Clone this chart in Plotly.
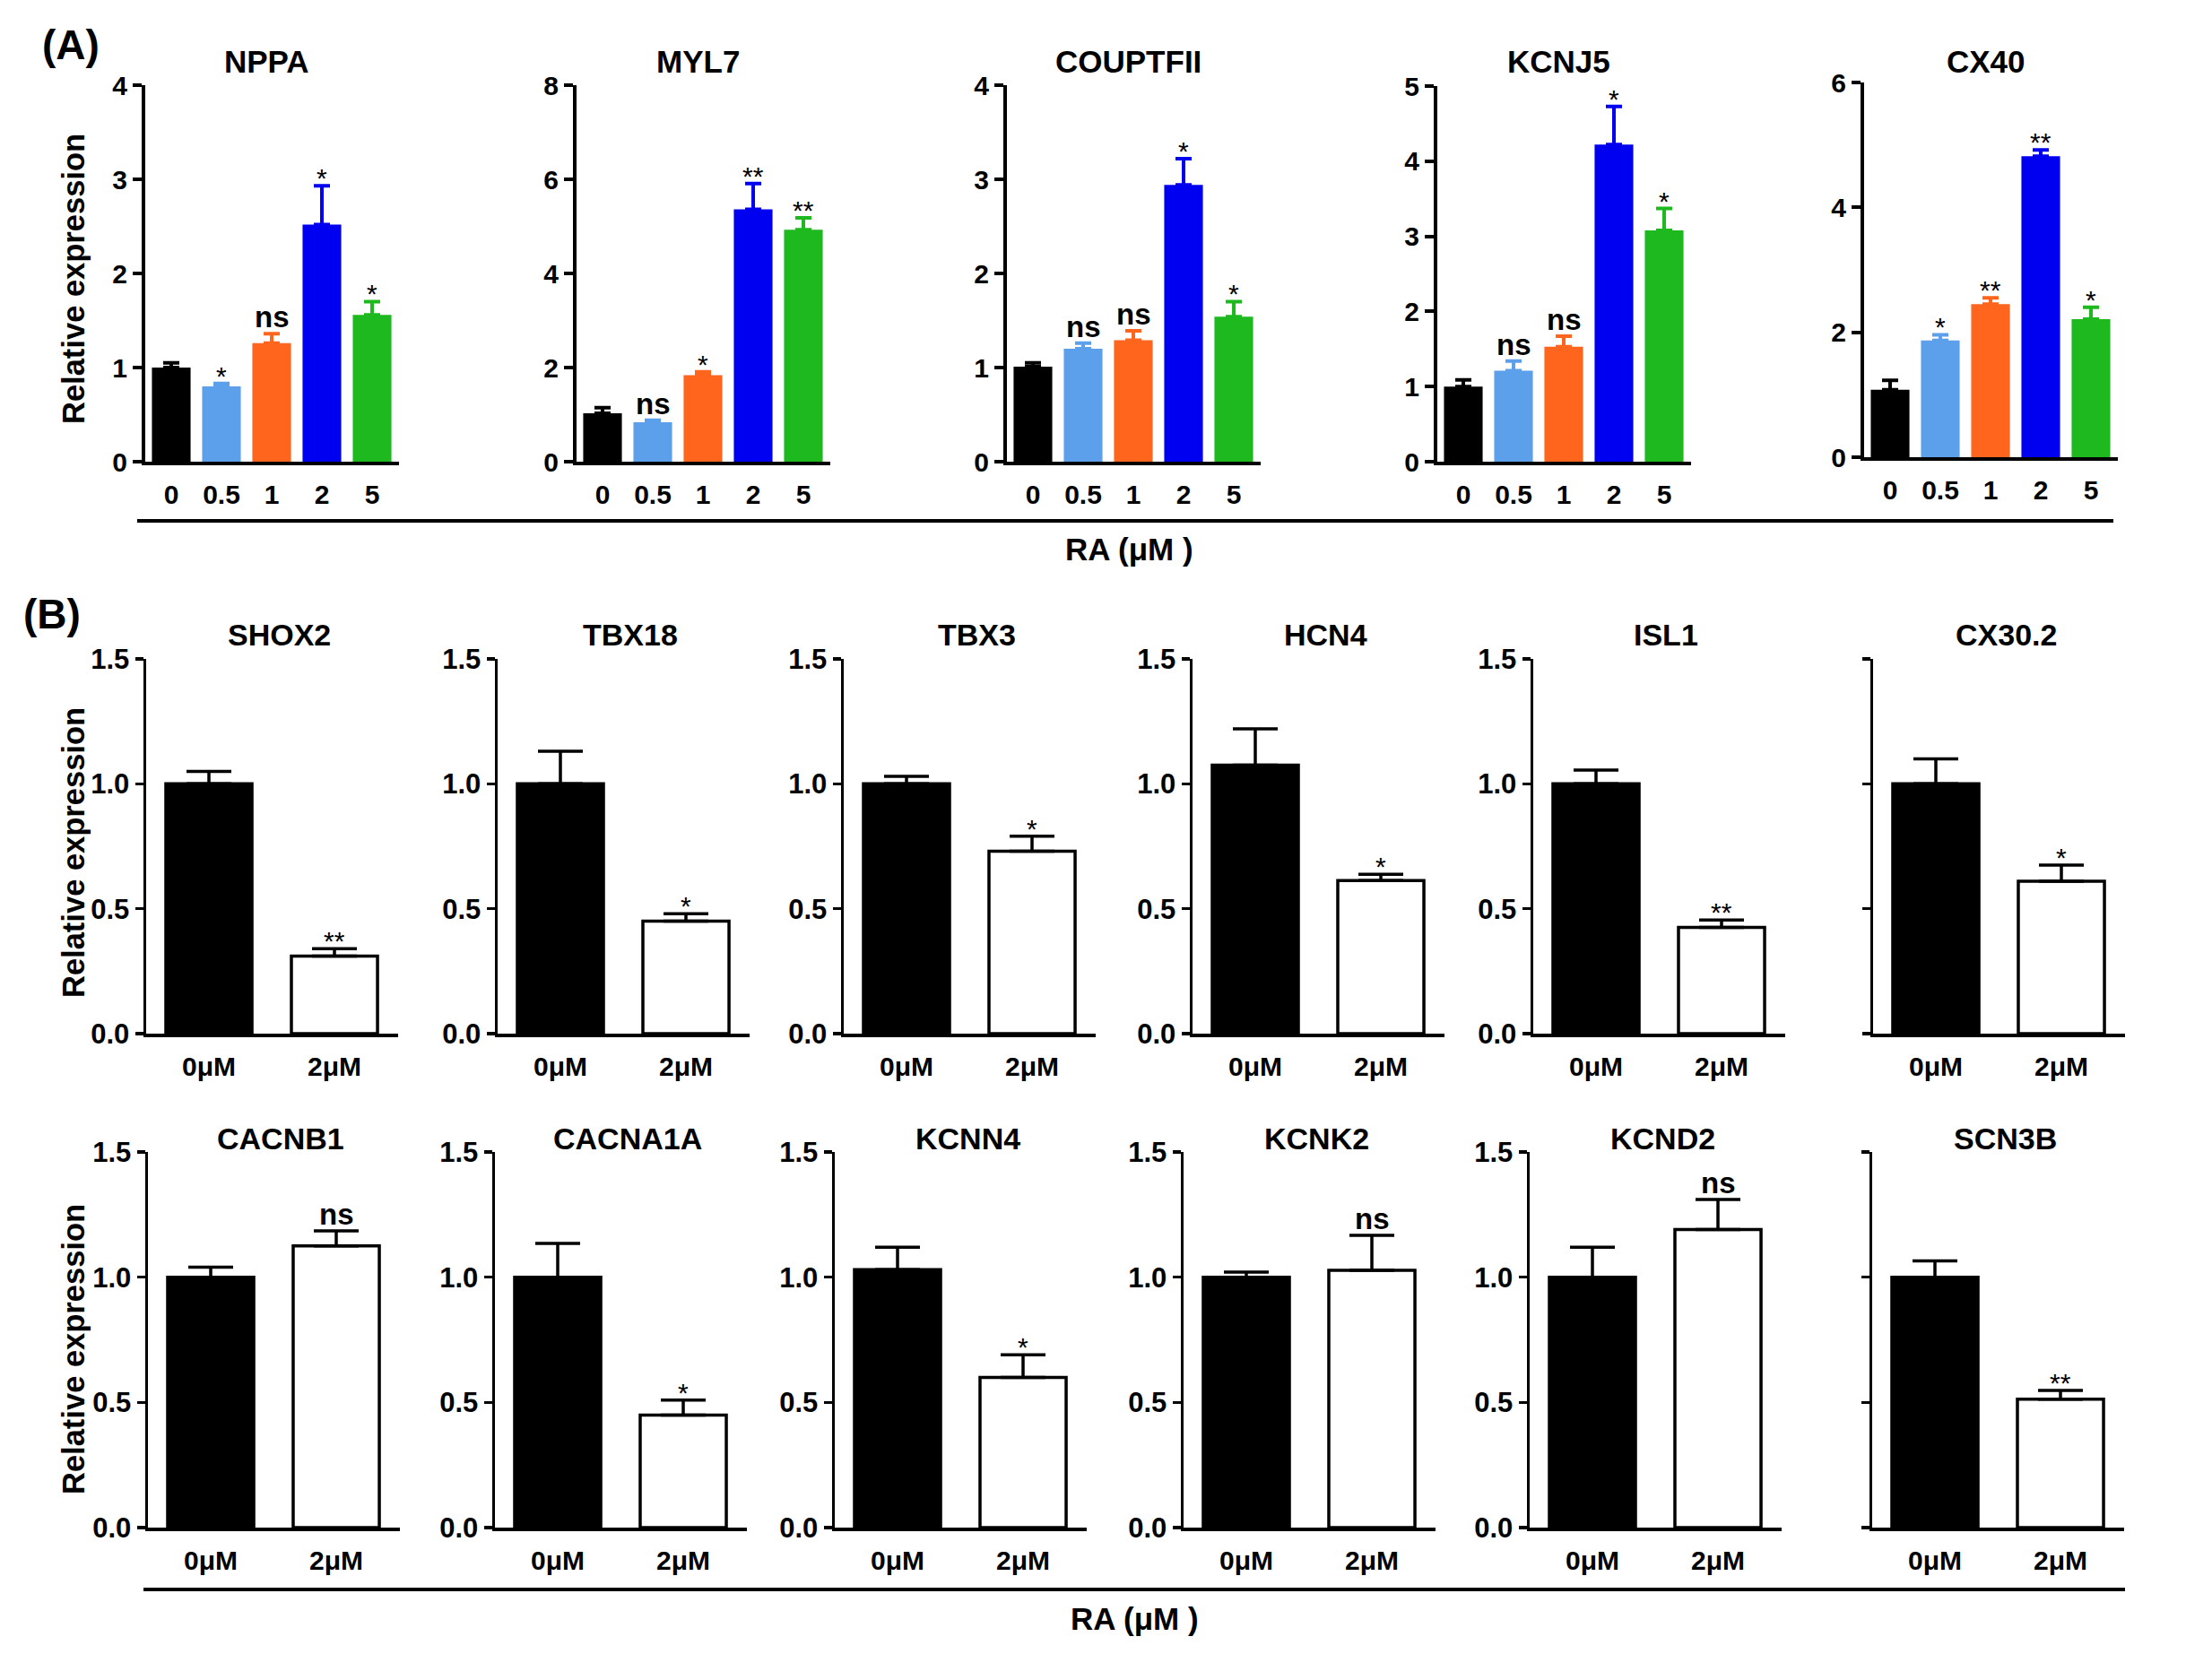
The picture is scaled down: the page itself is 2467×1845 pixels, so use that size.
import plotly.graph_objects as go

W, H = 2467, 1845

# ---------------- Panel A data ----------------
a_genes = ["NPPA", "MYL7", "COUPTFII", "KCNJ5", "CX40"]
a_doses = ["0", "0.5", "1", "2", "5"]
a_colors = ["#000000", "#5CA0EC", "#FF651C", "#0000F0", "#1EB91E"]
a_ymax = [4, 8, 4, 5, 6]
a_dtick = [1, 2, 1, 1, 2]

nppa_mean = [1.00, 0.80, 1.26, 2.52, 1.56]
nppa_err = [0.05, 0.03, 0.10, 0.41, 0.14]
nppa_sig = ["", "*", "ns", "*", "*"]

myl7_mean = [1.03, 0.84, 1.84, 5.36, 4.93]
myl7_err = [0.12, 0.04, 0.07, 0.55, 0.25]
myl7_sig = ["", "ns", "*", "**", "**"]

couptfii_mean = [1.01, 1.20, 1.29, 2.94, 1.54]
couptfii_err = [0.04, 0.06, 0.10, 0.28, 0.16]
couptfii_sig = ["", "ns", "ns", "*", "*"]

kcnj5_mean = [1.00, 1.21, 1.53, 4.22, 3.08]
kcnj5_err = [0.09, 0.13, 0.14, 0.51, 0.29]
kcnj5_sig = ["", "ns", "ns", "*", "*"]

cx40_mean = [1.08, 1.87, 2.45, 4.82, 2.21]
cx40_err = [0.15, 0.09, 0.10, 0.10, 0.19]
cx40_sig = ["", "*", "**", "**", "*"]

# ---------------- Panel B data ----------------
b_groups = ["0μM", "2μM"]
b_genes = ["SHOX2", "TBX18", "TBX3", "HCN4", "ISL1", "CX30.2",
           "CACNB1", "CACNA1A", "KCNN4", "KCNK2", "KCND2", "SCN3B"]
b_ctrl_mean = [1.00, 1.00, 1.00, 1.075, 1.00, 1.00, 1.00, 1.00, 1.03, 1.00, 1.00, 1.00]
b_ctrl_err = [0.05, 0.13, 0.03, 0.145, 0.055, 0.10, 0.04, 0.135, 0.09, 0.02, 0.12, 0.065]
b_ra_mean = [0.31, 0.45, 0.73, 0.613, 0.425, 0.61, 1.125, 0.449, 0.60, 1.027, 1.19, 0.513]
b_ra_err = [0.03, 0.03, 0.06, 0.025, 0.03, 0.065, 0.06, 0.06, 0.09, 0.14, 0.12, 0.035]
b_sig = ["**", "*", "*", "*", "**", "*", "ns", "*", "*", "ns", "ns", "**"]
b_yticks = [0.0, 0.5, 1.0, 1.5]

# ---------------- layout geometry (pixels) ----------------
FONT = "Arial, 'Liberation Sans', sans-serif"
a_axis_x = [162, 643, 1123, 1603, 2079]
a_zero = [515, 515, 515, 515, 510]
a_top = [95, 95, 95, 96, 92]
b_axis_x = [163, 555, 941, 1330, 1710, 2089, 165, 552, 931, 1320, 1706, 2088]
b_zero = [1153] * 6 + [1704] * 6
b_top = [735] * 6 + [1285] * 6
b_title_y = [708] * 6 + [1270] * 6


def pxx(x):
    return x / W


def pyy(y):
    return 1 - y / H


def sfx(n):
    return "" if n == 1 else str(n)


fig = go.Figure()
lay = {}
ann = []
shapes = []

a_means = [nppa_mean, myl7_mean, couptfii_mean, kcnj5_mean, cx40_mean]
a_errs = [nppa_err, myl7_err, couptfii_err, kcnj5_err, cx40_err]
a_sigs = [nppa_sig, myl7_sig, couptfii_sig, kcnj5_sig, cx40_sig]

n = 0
for i, gene in enumerate(a_genes):
    n += 1
    xs = "x" + sfx(n)
    ys = "y" + sfx(n)
    ax = a_axis_x[i]
    lay["xaxis" + sfx(n)] = dict(
        domain=[pxx(ax), pxx(ax + 283)], range=[-29 / 56, 4 + 30 / 56],
        anchor=ys, showline=True, linewidth=4, linecolor="black",
        tickvals=list(range(len(a_doses))), ticktext=a_doses,
        ticks="outside", ticklen=7, tickcolor="rgba(0,0,0,0)",
        tickfont=dict(size=30, family=FONT, color="black", weight="bold"),
        showgrid=False, zeroline=False, fixedrange=True, automargin=False)
    lay["yaxis" + sfx(n)] = dict(
        domain=[pyy(a_zero[i]), pyy(a_top[i])], range=[0, a_ymax[i]],
        anchor=xs, showline=True, linewidth=4, linecolor="black",
        tick0=0, dtick=a_dtick[i], ticks="outside", ticklen=10, tickwidth=4,
        tickcolor="black",
        tickfont=dict(size=30, family=FONT, color="black", weight="bold"),
        showgrid=False, zeroline=False, fixedrange=True, automargin=False)
    for k in range(len(a_doses)):
        fig.add_trace(go.Bar(
            x=[k], y=[a_means[i][k]], width=0.77, xaxis=xs, yaxis=ys,
            marker=dict(color=a_colors[k], line=dict(width=0)),
            error_y=dict(type="data", symmetric=False, array=[a_errs[i][k]],
                         arrayminus=[0], color=a_colors[k], thickness=4, width=9),
            showlegend=False, hoverinfo="skip"))
        s = a_sigs[i][k]
        if s:
            is_ns = s == "ns"
            ann.append(dict(
                x=k, y=a_means[i][k] + a_errs[i][k], xref=xs, yref=ys,
                text=f"<b>{s}</b>" if is_ns else s, showarrow=False,
                yanchor="bottom", xanchor="center",
                yshift=-2 if is_ns else -10,
                font=dict(size=33 if is_ns else 30, family=FONT, color="black")))
    ann.append(dict(
        x=0.48, y=pyy(68), xref=f"{xs} domain", yref="paper", text=f"<b>{gene}</b>",
        showarrow=False, xanchor="center", yanchor="middle",
        font=dict(size=35, family=FONT, color="black")))

for j, gene in enumerate(b_genes):
    n += 1
    xs = "x" + sfx(n)
    ys = "y" + sfx(n)
    ax = b_axis_x[j]
    labeled = gene not in ("CX30.2", "SCN3B")
    lay["xaxis" + sfx(n)] = dict(
        domain=[pxx(ax), pxx(ax + 281)], range=[-0.5, 1.507],
        anchor=ys, showline=True, linewidth=3.5, linecolor="black",
        tickvals=[0, 1], ticktext=b_groups,
        ticks="outside", ticklen=7, tickcolor="rgba(0,0,0,0)",
        tickfont=dict(size=30, family=FONT, color="black", weight="bold"),
        showgrid=False, zeroline=False, fixedrange=True, automargin=False)
    lay["yaxis" + sfx(n)] = dict(
        domain=[pyy(b_zero[j]), pyy(b_top[j])], range=[0, 1.5],
        anchor=xs, showline=True, linewidth=3.5, linecolor="black",
        tickvals=b_yticks, tickformat=".1f", ticks="outside", ticklen=9,
        tickwidth=3.5, tickcolor="black", showticklabels=labeled,
        tickfont=dict(size=31, family=FONT, color="black", weight="bold"),
        showgrid=False, zeroline=False, fixedrange=True, automargin=False)
    means = [b_ctrl_mean[j], b_ra_mean[j]]
    errs = [b_ctrl_err[j], b_ra_err[j]]
    fills = ["black", "white"]
    for k in range(2):
        fig.add_trace(go.Bar(
            x=[k], y=[means[k]], width=0.686, xaxis=xs, yaxis=ys,
            marker=dict(color=fills[k], line=dict(width=3.5, color="black")),
            error_y=dict(type="data", symmetric=False, array=[errs[k]],
                         arrayminus=[0], color="black", thickness=3.5, width=25),
            showlegend=False, hoverinfo="skip"))
    s = b_sig[j]
    is_ns = s == "ns"
    ann.append(dict(
        x=1, y=means[1] + errs[1], xref=xs, yref=ys,
        text=f"<b>{s}</b>" if is_ns else s, showarrow=False,
        yanchor="bottom", xanchor="center",
        yshift=-2 if is_ns else -10,
        font=dict(size=33 if is_ns else 30, family=FONT, color="black")))
    ann.append(dict(
        x=0.527, y=pyy(b_title_y[j]), xref=f"{xs} domain", yref="paper",
        text=f"<b>{gene}</b>", showarrow=False, xanchor="center", yanchor="middle",
        font=dict(size=34, family=FONT, color="black")))

# panel letters, shared axis titles, group lines
ann.append(dict(x=pxx(45), y=pyy(50), xref="paper", yref="paper", text="<b>(A)</b>",
                showarrow=False, xanchor="left", yanchor="middle",
                font=dict(size=46, family=FONT, color="black")))
ann.append(dict(x=pxx(24), y=pyy(685), xref="paper", yref="paper", text="<b>(B)</b>",
                showarrow=False, xanchor="left", yanchor="middle",
                font=dict(size=46, family=FONT, color="black")))
for yc in (311, 951, 1505):
    ann.append(dict(x=pxx(82), y=pyy(yc), xref="paper", yref="paper",
                    text="<b>Relative expression</b>", textangle=-90,
                    showarrow=False, xanchor="center", yanchor="middle",
                    font=dict(size=34.5, family=FONT, color="black")))
for (xc, yc) in ((1259, 612), (1265, 1805)):
    ann.append(dict(x=pxx(xc), y=pyy(yc), xref="paper", yref="paper",
                    text="<b>RA (μM )</b>", showarrow=False,
                    xanchor="center", yanchor="middle",
                    font=dict(size=35, family=FONT, color="black")))
for (x0, x1, yl) in ((153, 2357, 581), (160, 2370, 1773)):
    shapes.append(dict(type="line", xref="paper", yref="paper",
                       x0=pxx(x0), x1=pxx(x1), y0=pyy(yl), y1=pyy(yl),
                       line=dict(color="black", width=4)))

fig.update_layout(
    width=W, height=H, margin=dict(l=0, r=0, t=0, b=0, pad=0, autoexpand=False),
    paper_bgcolor="white", plot_bgcolor="white", barmode="overlay",
    font=dict(family=FONT, color="black"),
    annotations=ann, shapes=shapes, showlegend=False, **lay)

fig.write_html("out.html", config={"displayModeBar": False, "staticPlot": True},
               post_script="document.body.style.margin='0';document.documentElement.style.overflow='hidden';")
